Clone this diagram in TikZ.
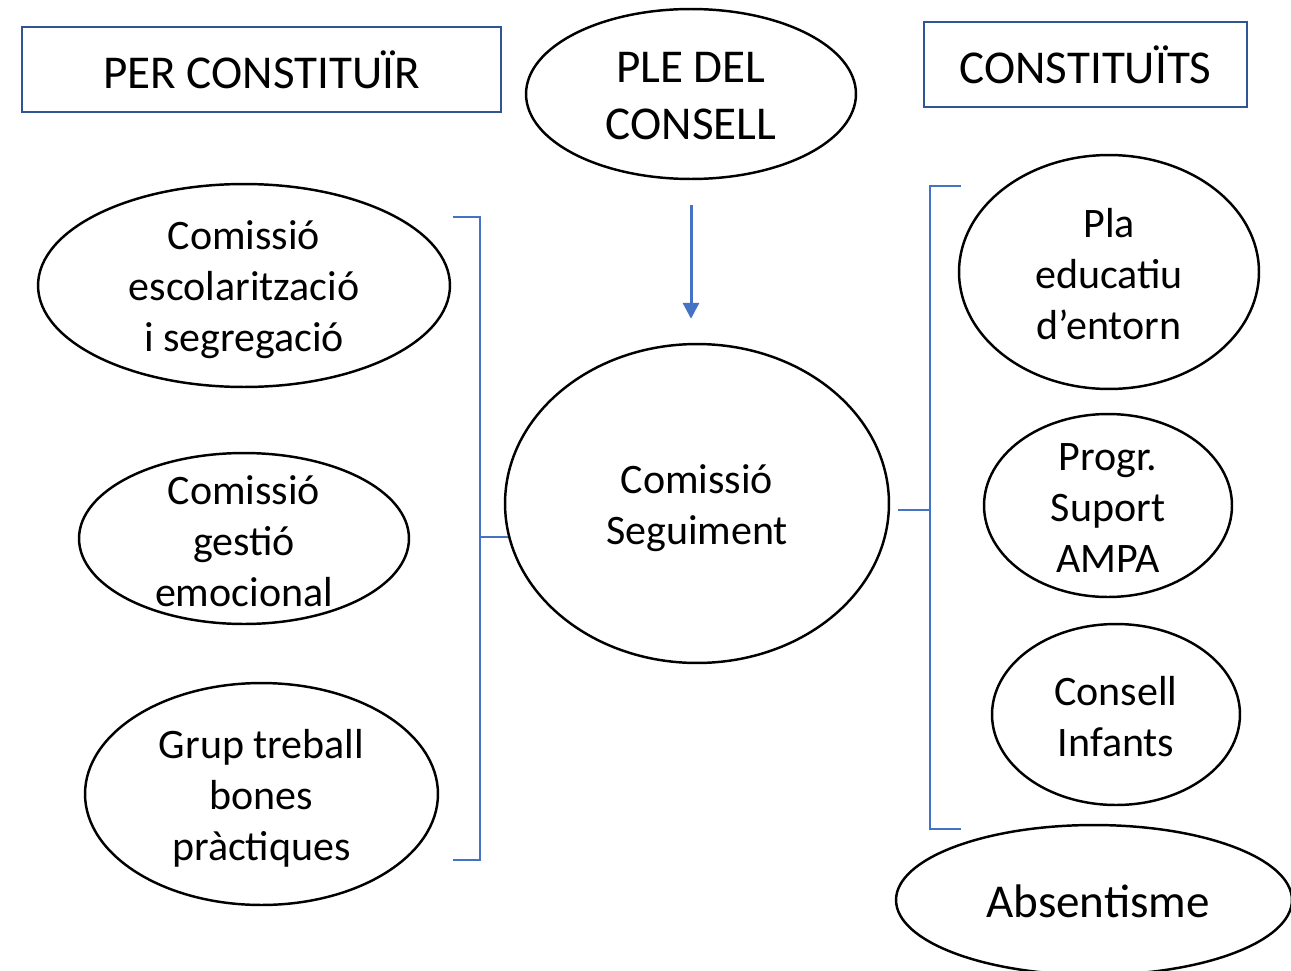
\documentclass[tikz,border=0pt]{standalone}
\usepackage{fontspec}
\setmainfont{Carlito}
\usetikzlibrary{shapes.geometric,arrows.meta}
\definecolor{boxblue}{HTML}{2F5597}
\definecolor{lineblue}{HTML}{4472C4}
\tikzstyle{oval}=[ellipse,draw,line width=1.4pt,inner sep=0pt]
\tikzstyle{words}=[align=center,inner sep=0pt,font=\fontsize{23.9}{29}\selectfont]
\tikzstyle{big words}=[align=center,inner sep=0pt,font=\fontsize{26.8}{32.4}\selectfont]
\tikzstyle{title box}=[draw=boxblue,line width=1.3pt,big words]
\tikzstyle{bracket}=[draw,lineblue,line width=0.8pt]
\tikzstyle{flow}=[draw,lineblue,line width=1.7pt,-{Triangle[width=0.32cm,length=0.32cm]}]

\begin{document}
\begin{tikzpicture}[x=0.02cm,y=-0.02cm]
			\useasboundingbox (0,0) rectangle (1291,970);
			% Titles
			\node[title box,minimum width=9.58cm,minimum height=1.7cm] (per) at (261.5,69.5) {PER CONSTITUÏR};
			\node[title box,minimum width=6.46cm,minimum height=1.7cm] (fets) at (1085.5,64.5) {CONSTITUÏTS};
			\node[oval,minimum width=6.6cm,minimum height=3.4cm] (ple) at (691,94) {};
			\node[big words] (ple txt) at (691,96) {PLE DEL\\CONSELL};
			% Left column
			\node[oval,minimum width=8.24cm,minimum height=4.06cm] (esc) at (244,285.5) {};
			\node[words] (esc txt) at (244,290) {Comissió\\escolarització\\i segregació};
			\node[oval,minimum width=6.6cm,minimum height=3.42cm] (emo) at (244,538.5) {};
			\node[words] (emo txt) at (244,541) {Comissió\\gestió\\emocional};
			\node[oval,minimum width=7.06cm,minimum height=4.44cm] (grup) at (261.5,794) {};
			\node[words] (grup txt) at (261.5,798) {Grup treball\\bones\\pràctiques};
			% Centre
			\node[oval,minimum width=7.68cm,minimum height=6.38cm] (seg) at (697,503.5) {};
			\node[words] (seg txt) at (697,508) {Comissió\\Seguiment};
			% Right column
			\node[oval,minimum width=6.0cm,minimum height=4.68cm] (pla) at (1109,272) {};
			\node[words] (pla txt) at (1109,274) {Pla\\educatiu\\d’entorn};
			\node[oval,minimum width=4.96cm,minimum height=3.66cm] (ampa) at (1108,505.5) {};
			\node[words] (ampa txt) at (1108,508) {Progr.\\Suport\\AMPA};
			\node[oval,minimum width=4.96cm,minimum height=3.62cm] (inf) at (1116,714.5) {};
			\node[words] (inf txt) at (1116,717) {Consell\\Infants};
			\node[oval,minimum width=7.92cm,minimum height=3.0cm] (abs) at (1094,900) {};
			\node[big words] (abs txt) at (1098,901) {Absentisme};
			% Brackets
			\coordinate (lt) at (453,217);
			\coordinate (lb) at (453,860);
			\coordinate (lmid) at (480,537);
			\coordinate (rt) at (961,186);
			\coordinate (rb) at (961,829);
			\coordinate (rmid) at (930,510);
			\path[bracket] (lt) -- (lt -| lmid) -- (lb -| lmid) -- (lb);
			\path[bracket] (seg.190) -- (seg.190 -| lmid);
			\path[bracket] (rt) -- (rt -| rmid) -- (rb -| rmid) -- (rb);
			\path[bracket] (rmid) -- ([xshift=0.16cm]seg.east |- rmid);
			% Arrow down to the committee
			\path[flow,shorten <=0.5cm,shorten >=0.48cm] (ple.south) -- (ple.south |- seg.north);
		\end{tikzpicture}
\end{document}
